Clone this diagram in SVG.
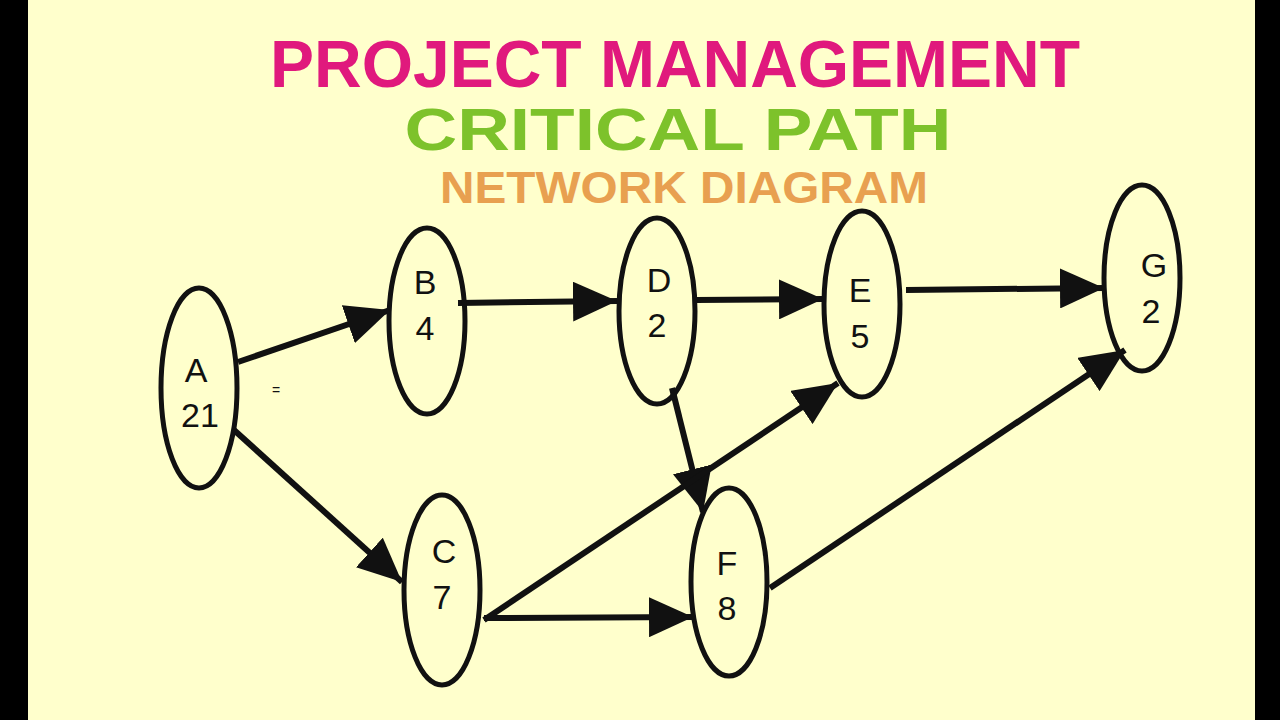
<svg xmlns="http://www.w3.org/2000/svg" width="1280" height="720" viewBox="0 0 1280 720">
<style>
.n{fill:none;stroke:#111;stroke-width:5}
.t{font-family:"Liberation Sans",Arial,sans-serif;font-size:34px;fill:#111;text-anchor:middle}
.c line{stroke:#111;stroke-width:6;marker-end:url(#ah)}
.h{font-family:"Liberation Sans",Arial,sans-serif;font-weight:bold;text-anchor:middle}
</style>
<defs>
<marker id="ah" markerUnits="userSpaceOnUse" markerWidth="46" markerHeight="40" refX="44" refY="20" orient="auto">
<path d="M0,0 L44,20 L0,40 Z" fill="#111"/>
</marker>
</defs>
<rect width="1280" height="720" fill="#000"/>
<rect x="28" y="0" width="1227" height="720" fill="#FFFFCC"/>
<text class="h" x="675" y="87" font-size="66" fill="#E0197D" textLength="810" lengthAdjust="spacingAndGlyphs">PROJECT MANAGEMENT</text>
<text class="h" x="678" y="150" font-size="60" fill="#7DC22B" textLength="547" lengthAdjust="spacingAndGlyphs">CRITICAL PATH</text>
<text class="h" x="684" y="203" font-size="44" fill="#E8A050" textLength="488" lengthAdjust="spacingAndGlyphs">NETWORK DIAGRAM</text>
<g class="c" id="connectors">
<line x1="238" y1="362" x2="390" y2="310"/>
<line x1="234" y1="430" x2="402" y2="582"/>
<line x1="458" y1="303" x2="617" y2="301"/>
<line x1="696" y1="300" x2="823" y2="299"/>
<line x1="906" y1="290" x2="1104" y2="288"/>
<line x1="672" y1="388" x2="703" y2="512"/>
<line x1="484" y1="620" x2="838" y2="383"/>
<line x1="484" y1="618" x2="693" y2="617"/>
<line x1="770" y1="588" x2="1125" y2="350"/>
</g>
<g id="A"><ellipse class="n" cx="199" cy="388" rx="38" ry="100"/><text class="t" x="196" y="382">A</text><text class="t" x="200" y="427">21</text></g>
<g id="B"><ellipse class="n" cx="427" cy="321" rx="38" ry="93"/><text class="t" x="425" y="294">B</text><text class="t" x="425" y="340">4</text></g>
<g id="C"><ellipse class="n" cx="442" cy="590" rx="38" ry="95"/><text class="t" x="444" y="563">C</text><text class="t" x="442" y="609">7</text></g>
<g id="D"><ellipse class="n" cx="657" cy="311" rx="38" ry="93"/><text class="t" x="659" y="292">D</text><text class="t" x="657" y="337">2</text></g>
<g id="E"><ellipse class="n" cx="862" cy="304" rx="38" ry="93"/><text class="t" x="860" y="302">E</text><text class="t" x="860" y="348">5</text></g>
<g id="F"><ellipse class="n" cx="729" cy="582" rx="38" ry="94"/><text class="t" x="727" y="575">F</text><text class="t" x="727" y="620">8</text></g>
<g id="G"><ellipse class="n" cx="1142" cy="278" rx="38" ry="93"/><text class="t" x="1154" y="277">G</text><text class="t" x="1151" y="323">2</text></g>
<text x="276" y="395" font-family="Liberation Sans,sans-serif" font-size="14" fill="#111" text-anchor="middle">=</text>
</svg>
